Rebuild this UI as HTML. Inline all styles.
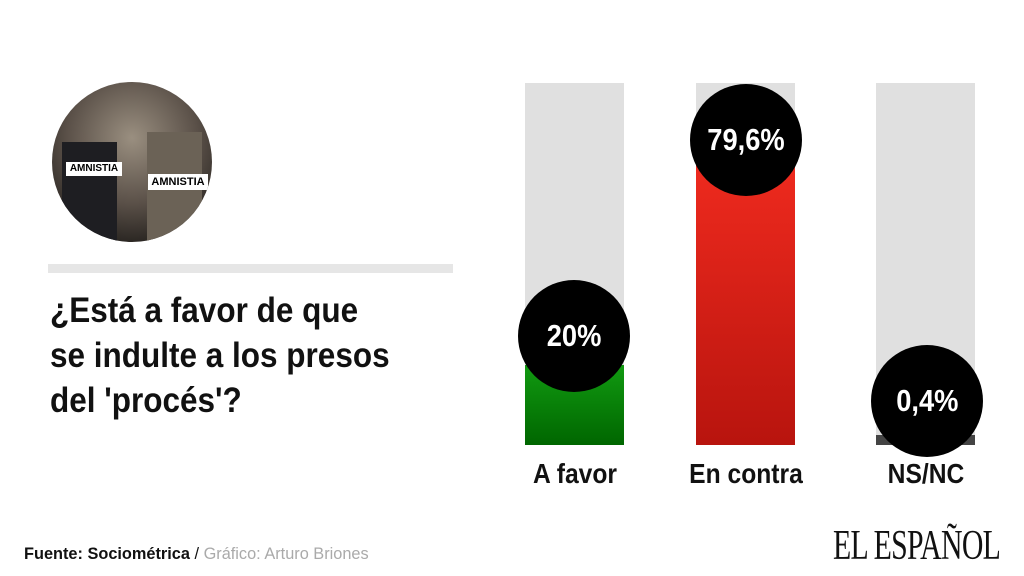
<!DOCTYPE html>
<html><head><meta charset="utf-8"><style>
*{margin:0;padding:0}
body{width:1024px;height:576px;background:#fff;position:relative;overflow:hidden;font-family:"Liberation Sans",sans-serif}
.a{position:absolute}
.bg{background:#e0e0e0;width:99px;top:83px;height:362px}
.c{border-radius:50%;background:#000;width:112px;height:112px;color:#fff;font-weight:bold;font-size:31px;text-align:center;line-height:112px}
.c span{display:inline-block;transform:scaleX(0.88)}
.l{font-weight:bold;font-size:28px;color:#111;text-align:center;width:200px;top:458px;transform:scaleX(0.88)}
</style></head><body>
<div class="a" style="left:52px;top:82px;width:160px;height:160px;border-radius:50%;background:radial-gradient(circle at 50% 35%,#9a8f80,#5a5048 50%,#2a2622 80%);overflow:hidden">
 <div class="a" style="left:10px;top:60px;width:55px;height:100px;background:#1e1e22"></div>
 <div class="a" style="left:95px;top:50px;width:55px;height:110px;background:#6b6256"></div>
 <div class="a" style="left:14px;top:80px;width:56px;height:14px;background:#fff;font:bold 10px 'Liberation Sans';color:#000;text-align:center;line-height:14px">AMNISTIA</div>
 <div class="a" style="left:96px;top:92px;width:60px;height:16px;background:#fff;font:bold 11px 'Liberation Sans';color:#000;text-align:center;line-height:16px">AMNISTIA</div>
</div>
<div class="a" style="left:48px;top:264px;width:405px;height:9px;background:#e6e6e6"></div>
<div class="a" style="left:50px;top:288px;font-weight:bold;font-size:35px;line-height:45px;color:#111;white-space:nowrap;transform:scaleX(0.9);transform-origin:left top">¿Está a favor de que<br>se indulte a los presos<br>del 'procés'?</div>

<div class="a bg" style="left:525px"></div>
<div class="a" style="left:525px;top:365px;width:99px;height:80px;background:linear-gradient(#119a11,#006600)"></div>
<div class="a c" style="left:518px;top:280px"><span>20%</span></div>
<div class="a l" style="left:475px">A favor</div>

<div class="a bg" style="left:696px"></div>
<div class="a" style="left:696px;top:165px;width:99px;height:280px;background:linear-gradient(#ee2a1e,#b8140e)"></div>
<div class="a c" style="left:690px;top:84px"><span>79,6%</span></div>
<div class="a l" style="left:646px">En contra</div>

<div class="a bg" style="left:876px"></div>
<div class="a" style="left:876px;top:435px;width:99px;height:10px;background:#444"></div>
<div class="a c" style="left:871px;top:345px"><span>0,4%</span></div>
<div class="a l" style="left:826px">NS/NC</div>

<div class="a" style="left:24px;top:544px;font-size:17px;color:#111;white-space:nowrap;transform:scaleX(0.96);transform-origin:left top"><b>Fuente: Sociométrica</b> / <span style="color:#aaa">Gráfico: Arturo Briones</span></div>
<div class="a" style="left:833px;top:522px;font-family:'Liberation Serif',serif;font-size:42px;color:#111;white-space:nowrap;transform:scaleX(0.71);transform-origin:left top;letter-spacing:-1px">EL ESPAÑOL</div>
</body></html>
